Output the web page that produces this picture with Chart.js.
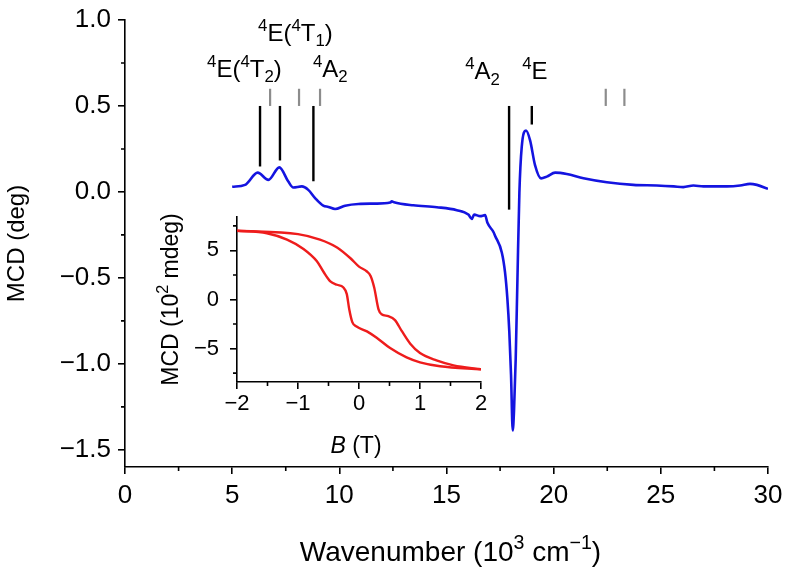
<!DOCTYPE html>
<html>
<head>
<meta charset="utf-8">
<script src="https://cdn.jsdelivr.net/npm/chart.js@4.4.1/dist/chart.umd.min.js"></script>
<style>
html, body { margin: 0; padding: 0; background: #fff; }
#wrap { position: relative; width: 788px; height: 568px; }
#main { position: absolute; left: 0; top: 0; }
#inset { position: absolute; left: 140px; top: 195px; }
</style>
</head>
<body>
<div id="wrap">
  <canvas id="main" width="788" height="568"></canvas>
  <canvas id="inset" width="350" height="275"></canvas>
</div>
<script>
const FONT = "'Liberation Sans', Arial, Helvetica, sans-serif";

// main MCD spectrum
const wavenumber = [5.0, 5.6, 6.19, 6.69, 7.2, 7.62, 7.85, 8.25, 8.55, 8.87, 9.25, 9.49, 9.8, 10.27, 10.89, 11.67,
  12.37, 12.45, 12.55, 13.45, 14.55, 15.48, 16.02, 16.18, 16.29, 16.57, 16.8, 16.91, 17.19, 17.27, 17.58, 17.73,
  17.84, 17.93, 18.01, 18.09, 18.15, 18.23, 18.31, 18.4, 18.51, 18.71, 18.9, 19.13, 19.41, 19.68, 20.07, 20.61,
  21.39, 22.48, 23.72, 24.81, 25.6, 26.05, 26.52, 26.99, 27.5, 28.08, 28.7, 29.16, 29.48, 30.0];
const mcd = [0.03, 0.041, 0.112, 0.07, 0.143, 0.06, 0.026, 0.032, 0.012, -0.036, -0.08, -0.087, -0.099, -0.08, -0.07, -0.068,
  -0.062, -0.055, -0.06, -0.078, -0.089, -0.106, -0.132, -0.157, -0.132, -0.141, -0.135, -0.18, -0.233, -0.256, -0.352, -0.467,
  -0.621, -0.812, -1.062, -1.388, -1.273, -0.966, -0.506, -0.007, 0.262, 0.357, 0.3, 0.156, 0.079, 0.089, 0.112, 0.104,
  0.079, 0.056, 0.041, 0.037, 0.032, 0.028, 0.037, 0.032, 0.032, 0.032, 0.037, 0.047, 0.041, 0.018];

// transition sticks (black) and weak ones (grey)
const stickX = [6.30, 7.23, 8.79, 17.92, 18.98];
const stickTop = [0.5, 0.5, 0.5, 0.5, 0.5];
const stickLow = [0.148, 0.183, 0.062, -0.103, 0.392];
const greyX = [6.77, 8.12, 9.10, 22.43, 23.30];
const greyTop = [0.6, 0.6, 0.6, 0.6, 0.6];
const greyLow = [0.5, 0.5, 0.5, 0.5, 0.5];

// state labels: parts, anchor (left x, baseline y) in data units
const stateLabels = [
  [['4', 'sup'], ['E(', ''], ['4', 'sup'], ['T', ''], ['2', 'sub'], [')', '']],
  [['4', 'sup'], ['E(', ''], ['4', 'sup'], ['T', ''], ['1', 'sub'], [')', '']],
  [['4', 'sup'], ['A', ''], ['2', 'sub']],
  [['4', 'sup'], ['A', ''], ['2', 'sub']],
  [['4', 'sup'], ['E', '']]
];
const labelX = [3.83, 6.21, 8.77, 15.87, 18.53];
const labelY = [0.67, 0.88, 0.67, 0.655, 0.655];

const xTicks = [0, 5, 10, 15, 20, 25, 30];
const xMinor = [2.5, 7.5, 12.5, 17.5, 22.5, 27.5];
const yTicks = [-1.5, -1.0, -0.5, 0, 0.5, 1.0];
const yMinor = [-1.25, -0.75, -0.25, 0.25, 0.75];

// inset: hysteresis loop
const fieldA = [-2, -1, -0.64, -0.36, -0.14, 0, 0.13, 0.19, 0.25, 0.32, 0.37, 0.48, 0.59, 0.7, 0.84, 1.0, 1.27, 1.55, 2];
const mcdA = [7.0, 6.65, 6.1, 5.3, 4.2, 3.35, 2.85, 2.4, 1.2, -1.0, -1.5, -1.7, -2.1, -3.2, -4.5, -5.45, -6.2, -6.7, -7.1];
const fieldB = [-2, -1.51, -1.18, -0.91, -0.69, -0.58, -0.47, -0.36, -0.26, -0.2, -0.16, -0.11, -0.04, 0.13, 0.29, 0.51, 0.78, 1.0, 1.33, 2];
const mcdB = [7.0, 6.75, 6.1, 5.15, 3.9, 2.8, 1.85, 1.5, 1.25, 0.55, -1.0, -2.3, -2.75, -3.25, -3.9, -4.95, -5.9, -6.4, -6.8, -7.1];

const bTicks = [-2, -1, 0, 1, 2];
const bMinor = [-1.5, -0.5, 0.5, 1.5];
const insetYTicks = [-5, 0, 5];
const insetYMinor = [-7.5, -2.5, 2.5, 7.5];

const minus = v => (v < 0 ? '\u2212' : '') + Math.abs(v);

function pts(xs, ys) { return xs.map((x, i) => ({x: x, y: ys[i]})); }

function drawRich(ctx, parts, x, y, size, align) {
  ctx.save();
  let w = 0;
  parts.forEach(([t, m]) => {
    const s = (m === 'sup' || m === 'sub') ? size * 0.7 : size;
    ctx.font = (m === 'it' ? 'italic ' : '') + s + 'px ' + FONT;
    w += ctx.measureText(t).width;
  });
  let cx = align === 'center' ? x - w / 2 : x;
  ctx.fillStyle = '#000';
  ctx.textBaseline = 'alphabetic';
  ctx.textAlign = 'left';
  parts.forEach(([t, m]) => {
    const s = (m === 'sup' || m === 'sub') ? size * 0.7 : size;
    const dy = m === 'sup' ? -size * 0.42 : m === 'sub' ? size * 0.22 : 0;
    ctx.font = (m === 'it' ? 'italic ' : '') + s + 'px ' + FONT;
    ctx.fillText(t, cx, y + dy);
    cx += ctx.measureText(t).width;
  });
  ctx.restore();
}

function minorTicks(xs, ys, len) {
  return {
    id: 'minorTicks',
    afterDraw(chart) {
      const {ctx, scales: {x, y}} = chart;
      ctx.save();
      ctx.strokeStyle = '#000';
      ctx.lineWidth = 1.6;
      ctx.beginPath();
      xs.forEach(v => { const p = x.getPixelForValue(v); ctx.moveTo(p, x.top); ctx.lineTo(p, x.top + len); });
      ys.forEach(v => { const p = y.getPixelForValue(v); ctx.moveTo(y.right, p); ctx.lineTo(y.right - len, p); });
      ctx.stroke();
      ctx.restore();
    }
  };
}

const mainText = {
  id: 'mainText',
  afterDraw(chart) {
    const {ctx, chartArea, scales: {x, y}} = chart;
    stateLabels.forEach((parts, i) => {
      drawRich(ctx, parts, x.getPixelForValue(labelX[i]), y.getPixelForValue(labelY[i]), 24, 'left');
    });
    drawRich(ctx, [['Wavenumber (10', ''], ['3', 'sup'], [' cm', ''], ['\u22121', 'sup'], [')', '']],
      (chartArea.left + chartArea.right) / 2 + 4, 561, 28, 'center');
    ctx.save();
    ctx.translate(24, (chartArea.top + chartArea.bottom) / 2);
    ctx.rotate(-Math.PI / 2);
    drawRich(ctx, [['MCD (deg)', '']], 0, 0, 24, 'center');
    ctx.restore();
  }
};

const insetText = {
  id: 'insetText',
  afterDraw(chart) {
    const {ctx, chartArea} = chart;
    drawRich(ctx, [['B', 'it'], [' (T)', '']], (chartArea.left + chartArea.right) / 2 - 3, 258, 23, 'center');
    ctx.save();
    ctx.translate(38, (chartArea.top + chartArea.bottom) / 2);
    ctx.rotate(-Math.PI / 2);
    drawRich(ctx, [['MCD (10', ''], ['2', 'sup'], [' mdeg)', '']], 0, 0, 23, 'center');
    ctx.restore();
  }
};

function axisOpts(min, max, ticks, fmt, size, pad, fit) {
  return {
    type: 'linear', min: min, max: max,
    afterBuildTicks: s => { s.ticks = ticks.map(v => ({value: v})); },
    afterFit: fit,
    border: {display: true, color: '#000', width: 1.6},
    grid: {drawOnChartArea: false, drawTicks: true, tickLength: 7, color: '#000', lineWidth: 1.6},
    ticks: {color: '#000', font: {family: FONT, size: size, lineHeight: 1}, padding: pad, callback: fmt, maxRotation: 0, autoSkip: false}
  };
}

const segs = [];
stickX.forEach((v, i) => segs.push({data: pts([v, v], [stickLow[i], stickTop[i]]), borderColor: '#000', borderWidth: 2.4}));
greyX.forEach((v, i) => segs.push({data: pts([v, v], [greyLow[i], greyTop[i]]), borderColor: '#8c8c8c', borderWidth: 2.2}));

new Chart(document.getElementById('main'), {
  type: 'scatter',
  data: {
    datasets: [
      {data: pts(wavenumber, mcd), borderColor: '#1414e0', borderWidth: 2.6, cubicInterpolationMode: 'monotone'},
      ...segs
    ].map(d => Object.assign({showLine: true, pointRadius: 0, fill: false}, d))
  },
  options: {
    responsive: false, animation: false, devicePixelRatio: 1,
    layout: {padding: {top: 15, right: 20, left: 0, bottom: 0}},
    plugins: {legend: {display: false}, tooltip: {enabled: false}},
    scales: {
      x: axisOpts(0, 30, xTicks, v => String(v), 26, 9, s => { s.height = 101; s.paddingRight = 0; s.paddingLeft = 0; }),
      y: axisOpts(-1.6, 1.0, yTicks, v => (v < 0 ? '\u2212' : '') + Math.abs(v).toFixed(1), 26, 7, s => { s.width = 125; })
    }
  },
  plugins: [minorTicks(xMinor, yMinor, 4), mainText]
});

new Chart(document.getElementById('inset'), {
  type: 'scatter',
  data: {
    datasets: [
      {data: pts(fieldA, mcdA)},
      {data: pts(fieldB, mcdB)}
    ].map(d => Object.assign({showLine: true, pointRadius: 0, borderColor: '#ee1c1c', borderWidth: 2.4, cubicInterpolationMode: 'monotone'}, d))
  },
  options: {
    responsive: false, animation: false, devicePixelRatio: 1,
    layout: {padding: {top: 8, right: 9, left: 0, bottom: 0}},
    plugins: {legend: {display: false}, tooltip: {enabled: false}},
    scales: {
      x: axisOpts(-2, 2, bTicks, minus, 22, 4, s => { s.height = 88; s.paddingRight = 0; s.paddingLeft = 0; }),
      y: axisOpts(-8.4, 8.4, insetYTicks, minus, 22, 11, s => { s.width = 97; })
    }
  },
  plugins: [minorTicks(bMinor, insetYMinor, 4), insetText]
});
</script>
</body>
</html>
